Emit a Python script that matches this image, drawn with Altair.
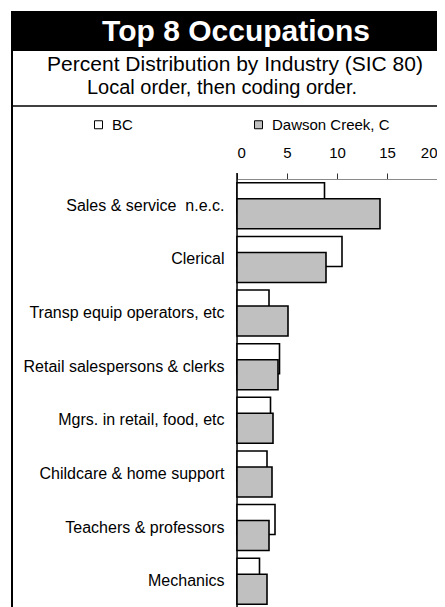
import altair as alt
import pandas as pd

# ---- data ----
occupations = [
    "Sales & service\u00a0 n.e.c.",
    "Clerical\u00a0",
    "Transp equip operators, etc",
    "Retail salespersons & clerks",
    "Mgrs. in retail, food, etc",
    "Childcare & home support",
    "Teachers & professors",
    "Mechanics",
]
bc_values = [8.75, 10.5, 3.2, 4.25, 3.35, 3.0, 3.8, 2.25]
dawson_values = [14.3, 8.9, 5.1, 4.1, 3.6, 3.5, 3.2, 3.0]
series_names = ["BC", "Dawson Creek, C"]
series_fills = ["#ffffff", "#c0c0c0"]
x_ticks = [0, 5, 10, 15, 20]

title_text = "Top 8 Occupations"
subtitle_1 = "Percent Distribution by Industry (SIC 80)"
subtitle_2 = "Local order, then coding order."

FONT = "Liberation Sans"

rows = []
for occ, b, d in zip(occupations, bc_values, dawson_values):
    rows.append({"occupation": occ, "series": series_names[0], "pct": b})
    rows.append({"occupation": occ, "series": series_names[1], "pct": d})
df = pd.DataFrame(rows)

one = pd.DataFrame({"k": [0]})

x_enc = alt.X(
    "pct:Q",
    scale=alt.Scale(domain=[0, 20], nice=False),
    axis=alt.Axis(
        orient="top", values=x_ticks, title=None, grid=False, tickSize=6,
        labelFontSize=15, labelPadding=13, domainColor="#8a8a8a", tickColor="#333333",
        labelColor="black", labelFont=FONT, domainWidth=1, tickWidth=1,
    ),
)
y_enc = alt.Y(
    "occupation:N",
    sort=occupations,
    scale=alt.Scale(paddingInner=0, paddingOuter=0),
    axis=alt.Axis(
        title=None, ticks=False, domain=False, labelFontSize=16, labelPadding=13,
        labelLimit=400, labelColor="black", labelFont=FONT,
    ),
)
fill_enc = alt.Fill(
    "series:N",
    scale=alt.Scale(domain=series_names, range=series_fills),
    legend=alt.Legend(
        orient="none", legendX=-146, legendY=-62, direction="horizontal", title=None,
        symbolType="square", symbolSize=64, symbolStrokeColor="black", symbolStrokeWidth=1,
        labelFontSize=15, labelFont=FONT, labelColor="black", labelOffset=6,
        columnPadding=118, padding=0,
    ),
)

bc_layer = alt.Chart(df).transform_filter(alt.datum.series == series_names[0]).mark_bar(
    size=30, yOffset=-8, stroke="black", strokeWidth=1.6
).encode(x=x_enc, y=y_enc, fill=fill_enc)

dc_layer = alt.Chart(df).transform_filter(alt.datum.series == series_names[1]).mark_bar(
    size=30, yOffset=8, stroke="black", strokeWidth=1.6
).encode(x=x_enc, y=y_enc, fill=fill_enc)

# ---- decorations (frame, title band, separators) ----
band = alt.Chart(one).mark_rect(color="black").encode(
    x=alt.value(-225.5), x2=alt.value(240), y=alt.value(-168), y2=alt.value(-128)
)
title_mark = alt.Chart(one).mark_text(
    text=title_text, color="white", fontWeight="bold", fontSize=30, font=FONT,
    align="center", baseline="middle",
).encode(x=alt.value(-1), y=alt.value(-147))
sub1 = alt.Chart(one).mark_text(
    text=subtitle_1, color="black", fontSize=21, font=FONT, align="center", baseline="middle"
).encode(x=alt.value(-2), y=alt.value(-114))
sub2 = alt.Chart(one).mark_text(
    text=subtitle_2, color="black", fontSize=20, font=FONT, align="center", baseline="middle"
).encode(x=alt.value(-15), y=alt.value(-91))
sep = alt.Chart(one).mark_rule(color="black", strokeWidth=1.5).encode(
    x=alt.value(-225.5), x2=alt.value(240), y=alt.value(-73)
)
left_border = alt.Chart(one).mark_rule(color="black", strokeWidth=2).encode(
    x=alt.value(-225), y=alt.value(-168), y2=alt.value(440)
)
y_line = alt.Chart(one).mark_rule(color="black", strokeWidth=1.5).encode(
    x=alt.value(0), y=alt.value(-6), y2=alt.value(440)
)

chart = alt.layer(
    band, title_mark, sub1, sub2, sep, left_border, y_line, bc_layer, dc_layer
).properties(
    width=200,
    height=429,
    padding={"left": 229, "top": 171, "right": 0, "bottom": 0},
    autosize=alt.AutoSizeParams(type="none"),
).configure_view(stroke=None).configure(font=FONT)

chart.save("out.html", embed_options={"renderer": "svg", "actions": False})
